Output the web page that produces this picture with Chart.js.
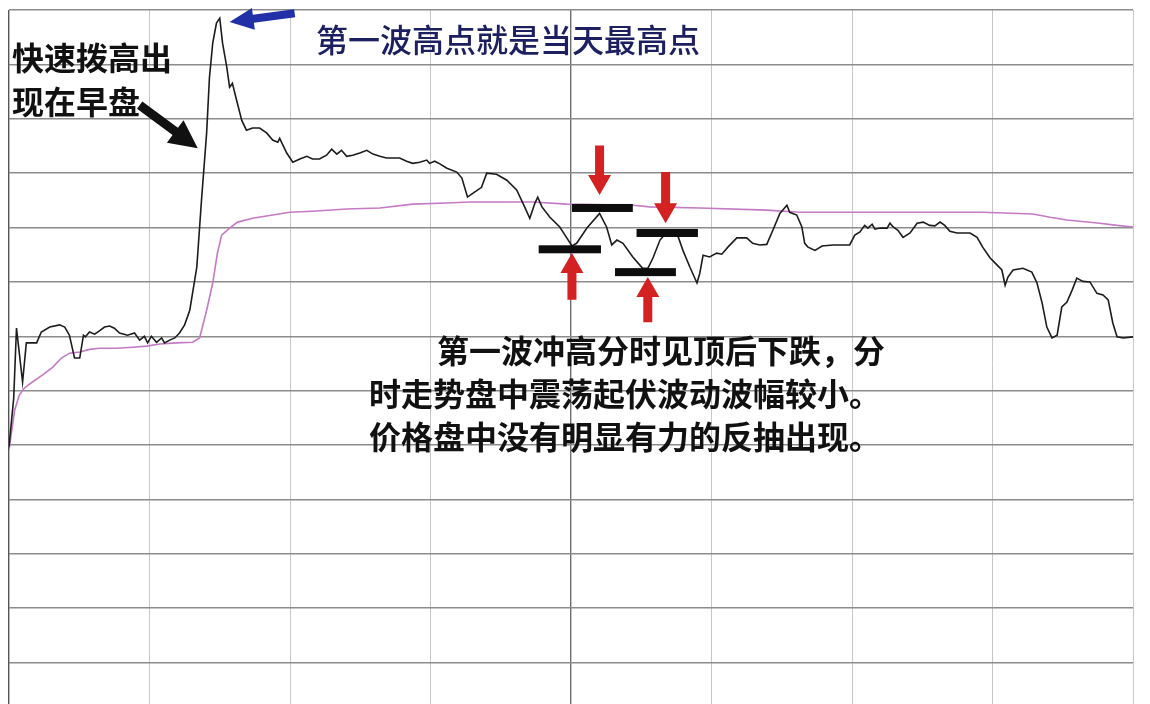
<!DOCTYPE html>
<html>
<head>
<meta charset="utf-8">
<script src="https://cdn.jsdelivr.net/npm/chart.js@4.4.0/dist/chart.umd.min.js"></script>
<style>
html, body { margin: 0; padding: 0; background: #fff; }
#wrap { position: relative; width: 1150px; height: 704px; overflow: hidden; background: #fff; }
#chart { position: absolute; left: 0; top: 0; }
.note { position: absolute; z-index: 2; font-family: "Noto Sans CJK SC", sans-serif; white-space: nowrap; }
#title { left: 316px; top: 18px; font-size: 32px; line-height: 40px; color: #1d2060; font-weight: 500; }
#left-note { left: 12px; top: 34px; font-size: 32px; line-height: 44px; color: #111; font-weight: 700; }
#bottom-note { left: 369px; top: 328px; font-size: 32px; line-height: 43px; color: #111; font-weight: 700; }
#bottom-note .first { padding-left: 68px; }
</style>
</head>
<body>
<div id="wrap">
  <canvas id="chart" width="1150" height="720"></canvas>
  <div class="note" id="title">第一波高点就是当天最高点</div>
  <div class="note" id="left-note">快速拨高出<br>现在早盘</div>
  <div class="note" id="bottom-note"><span class="first">第一波冲高分时见顶后下跌，分</span><br>时走势盘中震荡起伏波动波幅较小。<br>价格盘中没有明显有力的反抽出现。</div>
</div>
<script>
// minutes since open (0..240) and price level in grid units
const priceTimes = [0, 1, 1.6, 2.9, 3.7, 5.9, 6.9, 8.7, 10.8, 11.9, 12.9, 14, 15.1, 15.9, 16.3, 17.2, 18.3, 19.3, 20.4, 21.5,
  22.5, 23.6, 25.3, 26.8, 27.9, 28.9, 29.6, 30.4, 31.5, 32.6, 33.2, 34.3, 35.4, 36.4, 37.5, 38.6, 40.1, 41.1, 42.2, 42.8,
  43.5, 44.3, 45, 45.6, 46.5, 47.1, 47.7, 48.6, 49.7, 50.7, 52, 53.5, 55, 56.3, 57.4, 57.8, 59.3, 60.6, 62.1, 63.6,
  64.8, 66.3, 67.8, 68.9, 70, 71, 72.1, 73.4, 74.9, 76.4, 77.7, 79.2, 80.6, 81.9, 83.4, 84.9, 86.2, 87.7, 89.2, 89.8,
  90.9, 92, 93.5, 95.6, 96.7, 97.9, 99.4, 100.9, 102, 104.1, 106.3, 108.4, 110.1, 111.2, 112.3, 112.9, 113.8, 115.5, 117.6, 119.1,
  120.2, 121.2, 123.4, 126.1, 127.6, 128.7, 129.8, 131.1, 133.2, 135.3, 136.4, 137.5, 139, 140.5, 142.6, 143.9, 145.4, 146.9, 147.5, 148.2,
  149.6, 151.1, 152.2, 153.5, 155.4, 157.5, 158.8, 160.3, 161.8, 163.1, 164.6, 166.1, 166.7, 168.2, 169.3, 169.9, 170.6, 172.1, 173.6, 175.9,
  179.5, 180.6, 181.7, 182.7, 183.4, 184.3, 184.9, 186, 187.5, 188.1, 188.8, 189.8, 190.9, 192.4, 193.9, 195.2, 196.6, 197.7, 198.8, 199.8,
  200.9, 202.4, 205.2, 206.7, 207.9, 209.5, 211, 212, 212.7, 213.3, 214.4, 216.5, 218.4, 219.5, 220.6, 221.6, 222.7, 223.8, 224.8, 225.9,
  227, 228, 229.3, 230.8, 232.3, 233.6, 234.7, 235.7, 236.6, 237.9, 240];
const prices = [4.96, 5.86, 7.15, 6.16, 6.88, 6.88, 7.08, 7.17, 7.21, 7.17, 7.02, 6.6, 6.6, 7.02, 6.99, 7.08, 7.04, 7.1, 7.17, 7.19,
  7.15, 7.06, 7.02, 7.06, 6.93, 7, 6.88, 7, 6.89, 6.97, 6.88, 6.93, 6.97, 7.06, 7.21, 7.48, 8.27, 9.5, 10.74, 11.76,
  12.39, 12.76, 12.85, 12.39, 11.95, 11.58, 11.65, 11.34, 10.97, 10.79, 10.83, 10.83, 10.74, 10.61, 10.57, 10.64, 10.37, 10.2, 10.26, 10.31,
  10.26, 10.26, 10.33, 10.44, 10.35, 10.42, 10.31, 10.33, 10.37, 10.42, 10.35, 10.31, 10.28, 10.28, 10.28, 10.22, 10.18, 10.2, 10.24, 10.18,
  10.22, 10.17, 10.09, 10.02, 9.91, 9.56, 9.65, 9.74, 10, 9.98, 9.87, 9.69, 9.38, 9.17, 9.45, 9.56, 9.38, 9.19, 9.01, 8.81,
  8.66, 8.71, 8.99, 9.26, 9.01, 8.68, 8.77, 8.71, 8.46, 8.25, 8.25, 8.44, 8.77, 8.92, 8.9, 8.58, 8.27, 7.98, 8.16, 8.49,
  8.46, 8.53, 8.51, 8.64, 8.81, 8.81, 8.71, 8.68, 8.69, 8.95, 9.26, 9.41, 9.28, 9.23, 9.01, 8.71, 8.64, 8.58, 8.66, 8.68,
  8.68, 8.86, 8.92, 9.04, 8.99, 9.06, 8.97, 8.99, 8.99, 9.08, 9.01, 8.95, 8.82, 8.9, 9.08, 9.1, 9.04, 9.03, 9.1, 9.04,
  8.93, 8.9, 8.9, 8.82, 8.64, 8.44, 8.31, 8.22, 7.94, 8.09, 8.22, 8.25, 8.18, 7.98, 7.61, 7.17, 6.97, 7.02, 7.54, 7.63,
  7.85, 8.07, 8.01, 8, 7.79, 7.76, 7.67, 7.24, 6.99, 6.97, 6.99];

// average price line
const avgTimes = [0, 1.2, 2.2, 3.3, 5, 7.2, 9.3, 11.2, 12.9, 15.1, 17.2, 19.3, 23, 26.4, 29.4, 32.2, 35.8, 39.2, 40.7, 42.2,
  43.5, 44.5, 45.4, 47.1, 48.8, 52, 56.3, 59.9, 64.8, 72.1, 79.2, 86.2, 93.5, 98.4, 111.8, 119.1, 133.2, 136.8, 147.5, 161.8,
  168.9, 193.9, 207.9, 218.6, 222.3, 225.9, 232.9, 236.6, 240];
const avgPrices = [4.91, 5.64, 5.92, 6.05, 6.16, 6.29, 6.43, 6.6, 6.69, 6.71, 6.76, 6.78, 6.78, 6.8, 6.82, 6.86, 6.88, 6.89, 6.97, 7.48,
  7.98, 8.53, 8.86, 8.99, 9.1, 9.17, 9.23, 9.28, 9.3, 9.34, 9.36, 9.43, 9.45, 9.47, 9.47, 9.43, 9.41, 9.38, 9.36, 9.32,
  9.28, 9.28, 9.28, 9.25, 9.19, 9.14, 9.08, 9.04, 9.01];

// annotation marks, in chart units [time, level]
const levelBars = [[113.1, 126.4, 8.6], [120.2, 133.2, 9.36], [134.0, 147.1, 8.9], [129.4, 142.4, 8.18]];
const arrows = [
  { from: [126.1, 10.51], to: [126.1, 9.6], color: '#d42121', shaft: 9, head: 20, headW: 23 },
  { from: [140.2, 10.02], to: [140.2, 9.08], color: '#d42121', shaft: 9, head: 20, headW: 23 },
  { from: [120.2, 7.67], to: [120.2, 8.53], color: '#d42121', shaft: 9, head: 20, headW: 23 },
  { from: [136.4, 7.26], to: [136.4, 8.09], color: '#d42121', shaft: 9, head: 20, headW: 23 },
  { from: [61.0, 12.94], to: [47.1, 12.78], color: '#2230a8', shaft: 8, head: 24, headW: 22 },
  { from: [27.9, 11.25], to: [40.3, 10.46], color: '#111111', shaft: 9, head: 28, headW: 28 }
];

function drawArrow(ctx, x0, y0, x1, y1, a) {
    const len = Math.hypot(x1 - x0, y1 - y0);
    const ux = (x1 - x0) / len, uy = (y1 - y0) / len;
    const nx = -uy, ny = ux;
    const bx = x1 - ux * a.head, by = y1 - uy * a.head;
    ctx.fillStyle = a.color;
    ctx.beginPath();
    ctx.moveTo(x0 + nx * a.shaft / 2, y0 + ny * a.shaft / 2);
    ctx.lineTo(bx + nx * a.shaft / 2, by + ny * a.shaft / 2);
    ctx.lineTo(bx + nx * a.headW / 2, by + ny * a.headW / 2);
    ctx.lineTo(x1, y1);
    ctx.lineTo(bx - nx * a.headW / 2, by - ny * a.headW / 2);
    ctx.lineTo(bx - nx * a.shaft / 2, by - ny * a.shaft / 2);
    ctx.lineTo(x0 - nx * a.shaft / 2, y0 - ny * a.shaft / 2);
    ctx.closePath();
    ctx.fill();
}

const marksPlugin = {
    id: 'marks',
    afterDatasetsDraw(chart) {
        const ctx = chart.ctx;
        const xs = chart.scales.x, ys = chart.scales.y;
        ctx.save();
        ctx.fillStyle = '#0d0d0d';
        levelBars.forEach(b => {
            const x0 = xs.getPixelForValue(b[0]);
            const x1 = xs.getPixelForValue(b[1]);
            const yy = ys.getPixelForValue(b[2]);
            ctx.fillRect(x0, yy - 4, x1 - x0, 8);
        });
        arrows.forEach(a => {
            drawArrow(ctx, xs.getPixelForValue(a.from[0]), ys.getPixelForValue(a.from[1]),
                xs.getPixelForValue(a.to[0]), ys.getPixelForValue(a.to[1]), a);
        });
        ctx.restore();
    }
};

const priceData = priceTimes.map((t, i) => ({ x: t, y: prices[i] }));
const avgData = avgTimes.map((t, i) => ({ x: t, y: avgPrices[i] }));

new Chart(document.getElementById('chart'), {
    type: 'line',
    data: {
        datasets: [{
            label: '价格',
            data: priceData,
            borderColor: '#1c1c1c',
            borderWidth: 1.6,
            pointRadius: 0,
            tension: 0
        }, {
            label: '均价',
            data: avgData,
            borderColor: '#c47ac4',
            borderWidth: 1.6,
            pointRadius: 0,
            tension: 0
        }]
    },
    options: {
        responsive: false,
        animation: false,
        layout: { padding: { left: 9, right: 17, top: 10, bottom: 3 } },
        plugins: {
            legend: { display: false },
            tooltip: { enabled: false }
        },
        scales: {
            x: {
                type: 'linear',
                min: 0,
                max: 240,
                ticks: { stepSize: 30, display: false },
                grid: {
                    drawTicks: false,
                    color: c => c.tick.value === 120 ? '#6f6f6f' : (c.tick.value === 0 ? '#555' : '#c6c6c6'),
                    lineWidth: c => (c.tick.value === 120 || c.tick.value === 0) ? 1.4 : 1
                },
                border: { display: false }
            },
            y: {
                min: 0,
                max: 13,
                ticks: { stepSize: 1, display: false },
                grid: { drawTicks: false, color: '#8c8c8c', lineWidth: 1.6 },
                border: { display: false }
            }
        }
    },
    plugins: [marksPlugin]
});
</script>
</body>
</html>
